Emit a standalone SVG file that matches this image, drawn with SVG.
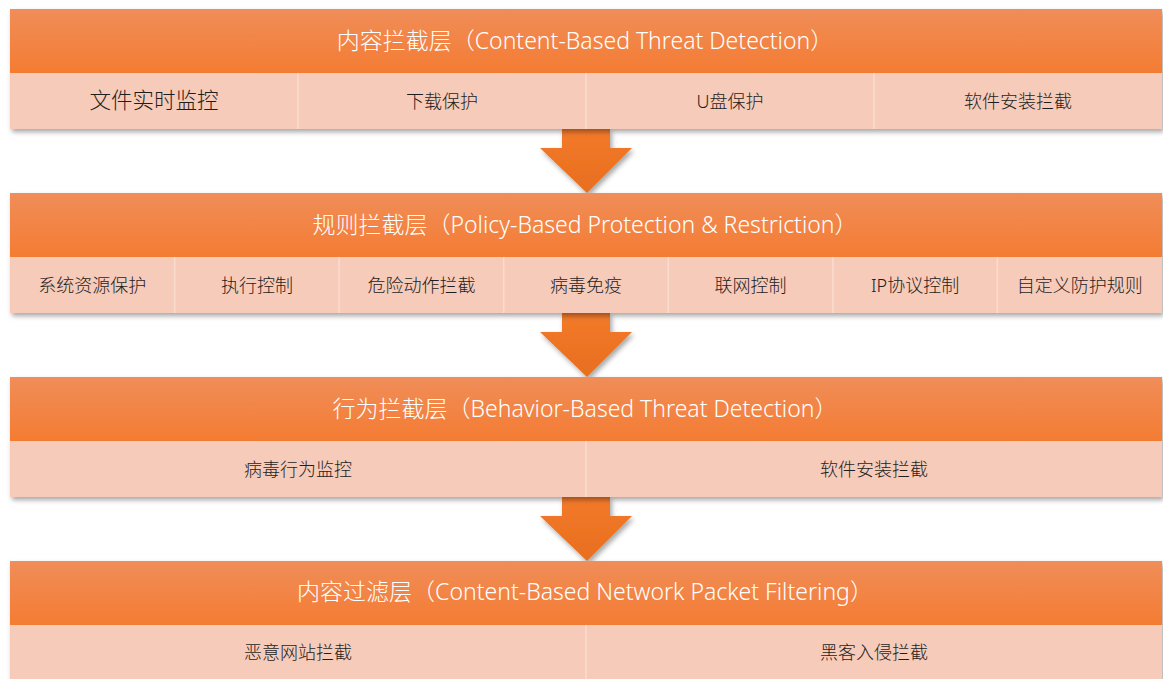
<svg xmlns="http://www.w3.org/2000/svg" width="1163" height="679" viewBox="0 0 1163 679">
<defs>
<linearGradient id="hg" x1="0" y1="0" x2="0" y2="1">
<stop offset="0" stop-color="#F08D59"/>
<stop offset="1" stop-color="#F47C32"/>
</linearGradient>
<linearGradient id="ag" x1="0" y1="0" x2="0" y2="1">
<stop offset="0" stop-color="#F27A2A"/>
<stop offset="1" stop-color="#E86E1E"/>
</linearGradient>
<filter id="sh" x="-5%" y="-20%" width="110%" height="150%">
<feDropShadow dx="2" dy="3" stdDeviation="2.5" flood-color="#000" flood-opacity="0.35"/>
</filter>
</defs>
<style>
.hd{fill:url(#hg)}
.sb{fill:#F7CBB9}
.dv{stroke:#FADCCE;stroke-width:1.5}
.ht{font-family:"Noto Sans","Noto Sans CJK SC",sans-serif;font-size:23px;font-weight:300;fill:#FFFFFF;text-anchor:middle}
.st{font-family:"Noto Sans","Noto Sans CJK SC",sans-serif;font-size:18px;font-weight:300;fill:#1E1E1E;text-anchor:middle}
.big{font-size:21.5px}
.ar{fill:url(#ag)}
</style>
<rect width="1163" height="679" fill="#FFFFFF"/>
<g id="connectors">
<path class="ar" d="M562,129 H610 V148 H632 L587,193 L540,148 H562 Z" filter="url(#sh)"/>
<path class="ar" d="M562,313 H610 V332 H632 L587,377 L540,332 H562 Z" filter="url(#sh)"/>
<path class="ar" d="M562,497 H610 V516 H632 L587,561 L540,516 H562 Z" filter="url(#sh)"/>
</g>
<g id="layer1" filter="url(#sh)">
<rect class="hd" x="10" y="9" width="1152" height="64"/>
<rect class="sb" x="10" y="73" width="1152" height="56"/>
</g>
<g id="layer1-content">
<line class="dv" x1="298" y1="73" x2="298" y2="129"/>
<line class="dv" x1="586" y1="73" x2="586" y2="129"/>
<line class="dv" x1="874" y1="73" x2="874" y2="129"/>
<text class="ht" x="585" y="49">内容拦截层（Content-Based Threat Detection）</text>
<text class="st big" x="154" y="108">文件实时监控</text>
<text class="st" x="442" y="108">下载保护</text>
<text class="st" x="730" y="108">U盘保护</text>
<text class="st" x="1018" y="108">软件安装拦截</text>
</g>
<g id="layer2" filter="url(#sh)">
<rect class="hd" x="10" y="193" width="1152" height="64"/>
<rect class="sb" x="10" y="257" width="1152" height="56"/>
</g>
<g id="layer2-content">
<line class="dv" x1="174.6" y1="257" x2="174.6" y2="313"/>
<line class="dv" x1="339.1" y1="257" x2="339.1" y2="313"/>
<line class="dv" x1="503.7" y1="257" x2="503.7" y2="313"/>
<line class="dv" x1="668.3" y1="257" x2="668.3" y2="313"/>
<line class="dv" x1="832.9" y1="257" x2="832.9" y2="313"/>
<line class="dv" x1="997.4" y1="257" x2="997.4" y2="313"/>
<text class="ht" x="585" y="233">规则拦截层（Policy-Based Protection &amp; Restriction）</text>
<text class="st" x="92.3" y="292">系统资源保护</text>
<text class="st" x="256.9" y="292">执行控制</text>
<text class="st" x="421.4" y="292">危险动作拦截</text>
<text class="st" x="586" y="292">病毒免疫</text>
<text class="st" x="750.6" y="292">联网控制</text>
<text class="st" x="915.1" y="292">IP协议控制</text>
<text class="st" x="1079.7" y="292">自定义防护规则</text>
</g>
<g id="layer3" filter="url(#sh)">
<rect class="hd" x="10" y="377" width="1152" height="64"/>
<rect class="sb" x="10" y="441" width="1152" height="56"/>
</g>
<g id="layer3-content">
<line class="dv" x1="586" y1="441" x2="586" y2="497"/>
<text class="ht" x="585" y="417">行为拦截层（Behavior-Based Threat Detection）</text>
<text class="st" x="298" y="476">病毒行为监控</text>
<text class="st" x="874" y="476">软件安装拦截</text>
</g>
<g id="layer4" filter="url(#sh)">
<rect class="hd" x="10" y="561" width="1152" height="64"/>
<rect class="sb" x="10" y="625" width="1152" height="60"/>
</g>
<g id="layer4-content">
<line class="dv" x1="586" y1="625" x2="586" y2="679"/>
<text class="ht" x="585" y="600">内容过滤层（Content-Based Network Packet Filtering）</text>
<text class="st" x="298" y="659">恶意网站拦截</text>
<text class="st" x="874" y="659">黑客入侵拦截</text>
</g>
</svg>
